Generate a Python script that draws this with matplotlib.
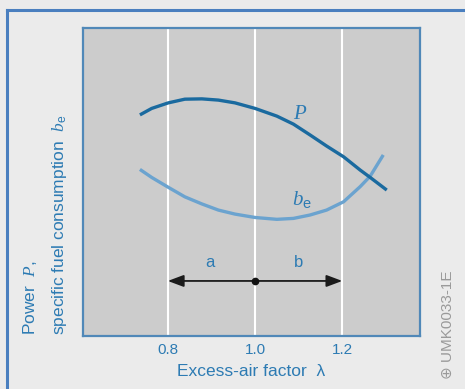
import numpy as np
import matplotlib
matplotlib.use("Agg")
import matplotlib.pyplot as plt
from matplotlib.lines import Line2D

plt.rcParams['font.family'] = ['Liberation Sans', 'DejaVu Sans']
plt.rcParams['mathtext.fontset'] = 'custom'
plt.rcParams['mathtext.rm'] = 'Liberation Sans'
plt.rcParams['mathtext.it'] = 'Liberation Serif:italic'

# excess-air factor and curve readings (relative units)
lam_P = [0.736, 0.763, 0.801, 0.839, 0.878, 0.916, 0.954, 1.000, 1.050, 1.088,
         1.126, 1.164, 1.203, 1.241, 1.264, 1.302]
power = [71.8, 73.9, 75.7, 76.9, 77.0, 76.6, 75.7, 73.9, 71.4, 68.8,
         65.3, 61.7, 58.2, 53.9, 51.5, 47.4]

lam_be = [0.736, 0.763, 0.801, 0.839, 0.878, 0.916, 0.954, 1.000, 1.050, 1.088,
          1.126, 1.164, 1.203, 1.241, 1.264, 1.294]
fuel = [54.1, 51.5, 48.3, 45.2, 42.9, 40.9, 39.6, 38.5, 37.9, 38.2,
        39.3, 40.9, 43.6, 48.5, 51.9, 58.8]

grid_x = [0.8, 1.0, 1.2]
tick_labels = ['0.8', '1.0', '1.2']

text_blue = '#2d7bb3'
dark_blue = '#1a6a9f'
light_blue = '#6ba3cf'

fig = plt.figure(figsize=(4.65, 3.89), dpi=100)
fig.patch.set_facecolor('#ebebeb')

# blue frame along left and top edge
fig.add_artist(Line2D([0.015, 0.015], [0, 0.974], color='#4a7fbf', lw=2.2, transform=fig.transFigure))
fig.add_artist(Line2D([0.015, 1.0], [0.974, 0.974], color='#4a7fbf', lw=2.2, transform=fig.transFigure))

ax = fig.add_axes([0.179, 0.136, 0.724, 0.792])
ax.set_facecolor('#cccccc')
ax.set_xlim(0.606, 1.378)
ax.set_ylim(0, 100)

for gx in grid_x:
    ax.axvline(gx, color='white', lw=1.5, zorder=1)

ax.plot(lam_P, power, color=dark_blue, lw=2.4, solid_capstyle='butt',
        solid_joinstyle='round', zorder=3)
ax.plot(lam_be, fuel, color=light_blue, lw=2.4, solid_capstyle='butt',
        solid_joinstyle='round', zorder=2)

ax.text(1.103, 72.4, r'$P$', color=text_blue, fontsize=15, ha='center', va='center')
ax.text(1.108, 44.2, r'$b_{\mathrm{e}}$', color=text_blue, fontsize=15, ha='center', va='center')

# operating range arrows a / b
for end in (0.8, 1.2):
    ax.annotate('', xy=(end, 17.9), xytext=(1.0, 17.9),
                arrowprops=dict(arrowstyle='-|>,head_length=0.8,head_width=0.3',
                                color='#1a1a1a', lw=1.3, mutation_scale=12,
                                shrinkA=0, shrinkB=0), zorder=4)
ax.plot([1.0], [17.9], 'o', color='#111111', ms=4.5, zorder=5)
ax.text(0.897, 21.5, 'a', color=text_blue, fontsize=12, ha='center', va='bottom')
ax.text(1.099, 21.5, 'b', color=text_blue, fontsize=12, ha='center', va='bottom')

ax.set_xticks(grid_x)
ax.set_xticklabels(tick_labels, color=text_blue, fontsize=11)
ax.tick_params(axis='x', length=0, pad=5)
ax.set_yticks([])
for s in ax.spines.values():
    s.set_color('#5088b8')
    s.set_linewidth(1.6)

ax.set_xlabel('Excess-air factor  \u03bb', color=text_blue, fontsize=12.5, labelpad=5)

fig.text(0.064, 0.139, r'Power  $P$,', rotation=90, color=text_blue, fontsize=12.5,
         ha='center', va='bottom')
fig.text(0.129, 0.139, r'specific fuel consumption  $b_{\mathrm{e}}$', rotation=90,
         color=text_blue, fontsize=12.5, ha='center', va='bottom')

fig.text(0.963, 0.025, '\u2295 UMK0033-1E', rotation=90, color='#9a9a9a', fontsize=11,
         ha='center', va='bottom')

fig.savefig('out.png', dpi=100, facecolor=fig.get_facecolor())
